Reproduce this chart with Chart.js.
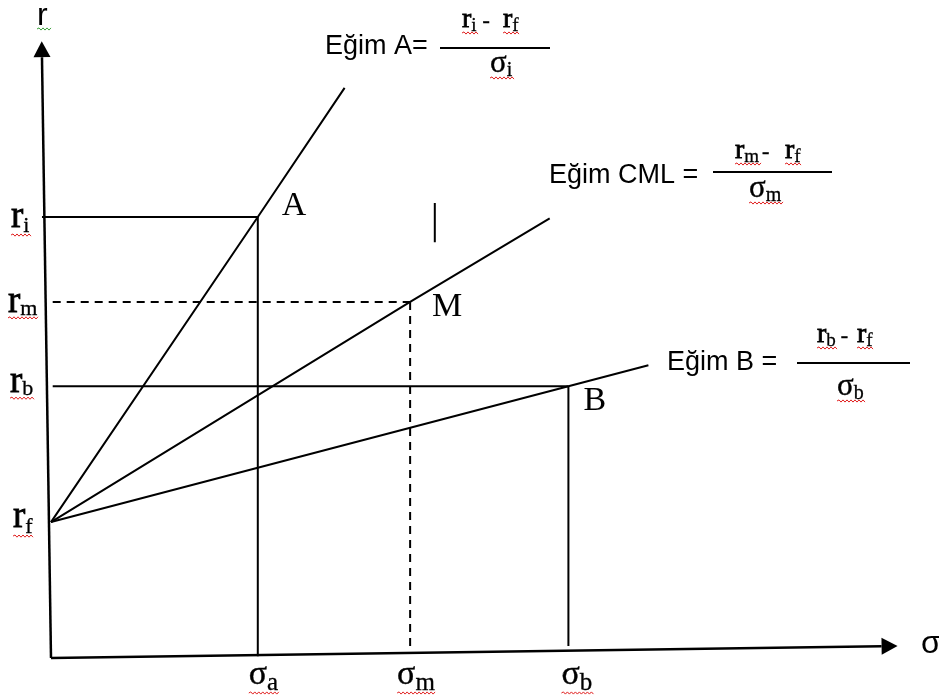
<!DOCTYPE html>
<html>
<head>
<meta charset="utf-8">
<script src="https://cdn.jsdelivr.net/npm/chart.js@4"></script>
<style>
  html, body { margin: 0; padding: 0; background: #fff; }
  canvas { display: block; }
</style>
</head>
<body>
<canvas id="cmlChart" width="939" height="700"></canvas>
<script>
// Values (sigma on x, return on y, arbitrary units)
const riskFree = 22.1;
const portfolioNames = ['A', 'M', 'B'];
const portfolioSigma = [24.3, 42.2, 60.8];
const portfolioReturn = [71.7, 57.9, 44.2];
const lineEndSigma = [34.5, 58.6, 70.2];
const lineEndReturn = [92.7, 71.5, 47.6];
const guideStartSigma = [-1.06, 0.2, 0.2];
const guideEndReturn = [0.3, 1.3, 1.95];
const returnSubscripts = ['i', 'm', 'b'];
const sigmaSubscripts = ['a', 'm', 'b'];
const yAxisTop = [-1.06, 97.7];
const xAxisEnd = [97.6, 1.9];
const strayMark = [[45.1, 74], [45.1, 67.6]];

const SERIF = '"Liberation Serif", "Times New Roman", serif';
const SANS = '"Liberation Sans", Arial, sans-serif';

function seg(points, width, dash) {
    return {
        data: points.map(p => ({ x: p[0], y: p[1] })),
        showLine: true,
        borderColor: '#000',
        borderWidth: width,
        borderDash: dash || [],
        pointRadius: 0,
        clip: false
    };
}

const datasets = [];
datasets.push(seg([[0, 0], yAxisTop], 2.5));
datasets.push(seg([[0, 0], xAxisEnd], 2.5));
portfolioNames.forEach((name, i) => {
    const dash = name === 'M' ? [8, 6] : [];
    datasets.push(seg([[0, riskFree], [portfolioSigma[i], portfolioReturn[i]], [lineEndSigma[i], lineEndReturn[i]]], 2));
    datasets.push(seg([[guideStartSigma[i], portfolioReturn[i]], [portfolioSigma[i], portfolioReturn[i]]], 2, dash));
    datasets.push(seg([[portfolioSigma[i], portfolioReturn[i]], [portfolioSigma[i], guideEndReturn[i]]], 2, dash));
});
datasets.push(seg(strayMark, 2));

// red / green spell-check squiggle
function wavy(ctx, x1, x2, y, color) {
    ctx.save();
    ctx.strokeStyle = color;
    ctx.lineWidth = 1;
    ctx.beginPath();
    ctx.moveTo(x1, y);
    let up = true;
    for (let x = x1; x < x2; x += 2) {
        ctx.lineTo(x + 2, y + (up ? -1.1 : 1.1));
        up = !up;
    }
    ctx.stroke();
    ctx.restore();
}

// serif text drawn a little heavier, like the scanned original
function heavy(ctx, text, x, y, size, stroke) {
    ctx.font = `${size}px ${SERIF}`;
    ctx.fillText(text, x, y);
    if (stroke) {
        ctx.lineWidth = stroke;
        ctx.strokeText(text, x, y);
    }
    return ctx.measureText(text).width;
}

function subText(ctx, main, sub, x, y, mainSize, subSize, drop, stroke) {
    const w = heavy(ctx, main, x, y, mainSize, stroke === undefined ? 0.8 : stroke);
    const ws = heavy(ctx, sub, x + w, y + drop, subSize, 0.3);
    return w + ws;
}

function arrowHead(ctx, from, to) {
    const dx = to.x - from.x, dy = to.y - from.y;
    const len = Math.hypot(dx, dy);
    const ux = dx / len, uy = dy / len;
    const tipX = to.x + ux * 16, tipY = to.y + uy * 16;
    ctx.beginPath();
    ctx.moveTo(tipX, tipY);
    ctx.lineTo(to.x - uy * 8.5, to.y + ux * 8.5);
    ctx.lineTo(to.x + uy * 8.5, to.y - ux * 8.5);
    ctx.closePath();
    ctx.fill();
}

function fraction(ctx, label, lx, ly, x1, x2, lineY, num, den) {
    ctx.font = `27px ${SANS}`;
    ctx.fillText(label, lx, ly);
    ctx.fillRect(x1, lineY - 1, x2 - x1, 2);
    // numerator: r_sub - r_f
    const w1 = subText(ctx, 'r', num.sub, num.x, num.y, 28, 19, 4);
    wavy(ctx, num.x, num.x + w1, num.y + 6, '#e02020');
    heavy(ctx, '-', num.x + w1 + num.gap, num.y, 22, 0.5);
    const w2 = subText(ctx, 'r', 'f', num.fx, num.y, 28, 19, 4);
    wavy(ctx, num.fx, num.fx + w2, num.y + 6, '#e02020');
    // denominator: sigma_sub
    const w3 = subText(ctx, 'σ', den.sub, den.x - 1, den.y, 31, 20, 4, 0.4);
    wavy(ctx, den.x - 1, den.x - 1 + w3, den.y + 6, '#e02020');
}

const labelPlugin = {
    id: 'cmlLabels',
    afterDraw(chart) {
        const ctx = chart.ctx;
        const xs = chart.scales.x, ys = chart.scales.y;
        ctx.save();
        ctx.fillStyle = '#000';
        ctx.strokeStyle = '#000';

        // arrow heads
        arrowHead(ctx, { x: xs.getPixelForValue(0), y: ys.getPixelForValue(0) },
            { x: xs.getPixelForValue(yAxisTop[0]), y: ys.getPixelForValue(yAxisTop[1]) });
        arrowHead(ctx, { x: xs.getPixelForValue(0), y: ys.getPixelForValue(0) },
            { x: xs.getPixelForValue(xAxisEnd[0]), y: ys.getPixelForValue(xAxisEnd[1]) });

        // axis names
        ctx.textBaseline = 'alphabetic';
        ctx.font = `32px ${SANS}`;
        ctx.fillText('r', 37, 25);
        wavy(ctx, 37, 50, 29, '#3aa03a');
        ctx.fillText('σ', 921, 653);

        // return labels on the y axis
        const retLabels = [
            { sub: returnSubscripts[0], x: 11, v: portfolioReturn[0], dy: 10, drop: 5 },
            { sub: returnSubscripts[1], x: 8, v: portfolioReturn[1], dy: 10, drop: 3 },
            { sub: returnSubscripts[2], x: 10, v: portfolioReturn[2], dy: 6, drop: 3 },
            { sub: 'f', x: 13, v: riskFree, dy: 5, drop: 6 }
        ];
        retLabels.forEach(l => {
            const y = ys.getPixelForValue(l.v) + l.dy;
            const w = subText(ctx, 'r', l.sub, l.x, y, 37, 22, l.drop);
            wavy(ctx, l.x, l.x + w, y + l.drop + 3, '#e02020');
        });

        // sigma labels under the x axis
        const sigmaShift = [-9, -13, -7];
        sigmaSubscripts.forEach((s, i) => {
            const x = xs.getPixelForValue(portfolioSigma[i]) + sigmaShift[i];
            const w = subText(ctx, 'σ', s, x, 684, 34, 25, 6, 0.4);
            wavy(ctx, x, x + w, 693, '#e02020');
        });

        // portfolio point labels
        const offsets = [[24, -2], [22, 14], [15, 24]];
        portfolioNames.forEach((name, i) => {
            const px = xs.getPixelForValue(portfolioSigma[i]) + offsets[i][0];
            const py = ys.getPixelForValue(portfolioReturn[i]) + offsets[i][1];
            heavy(ctx, name, px, py, 34, 0);
        });

        // slope formulas
        fraction(ctx, 'Eğim A=', 325, 54, 440, 550, 48,
            { x: 462, sub: 'i', gap: 6, fx: 503, y: 27 }, { x: 491, sub: 'i', y: 72 });
        fraction(ctx, 'Eğim CML =', 549, 183, 713, 832, 172,
            { x: 735, sub: 'm', gap: 3, fx: 785, y: 158 }, { x: 750, sub: 'm', y: 197 });
        fraction(ctx, 'Eğim B =', 667, 370, 797, 910, 363,
            { x: 817, sub: 'b', gap: 5, fx: 857, y: 342 }, { x: 838, sub: 'b', y: 395 });

        ctx.restore();
    }
};

const ctx = document.getElementById('cmlChart').getContext('2d');
new Chart(ctx, {
    type: 'scatter',
    data: { datasets: datasets },
    options: {
        responsive: false,
        animation: false,
        layout: { padding: { left: 51, right: 37, top: 43, bottom: 42 } },
        plugins: {
            legend: { display: false },
            tooltip: { enabled: false }
        },
        scales: {
            x: { type: 'linear', min: 0, max: 100, display: false },
            y: { type: 'linear', min: 0, max: 100, display: false }
        }
    },
    plugins: [labelPlugin]
});
</script>
</body>
</html>
